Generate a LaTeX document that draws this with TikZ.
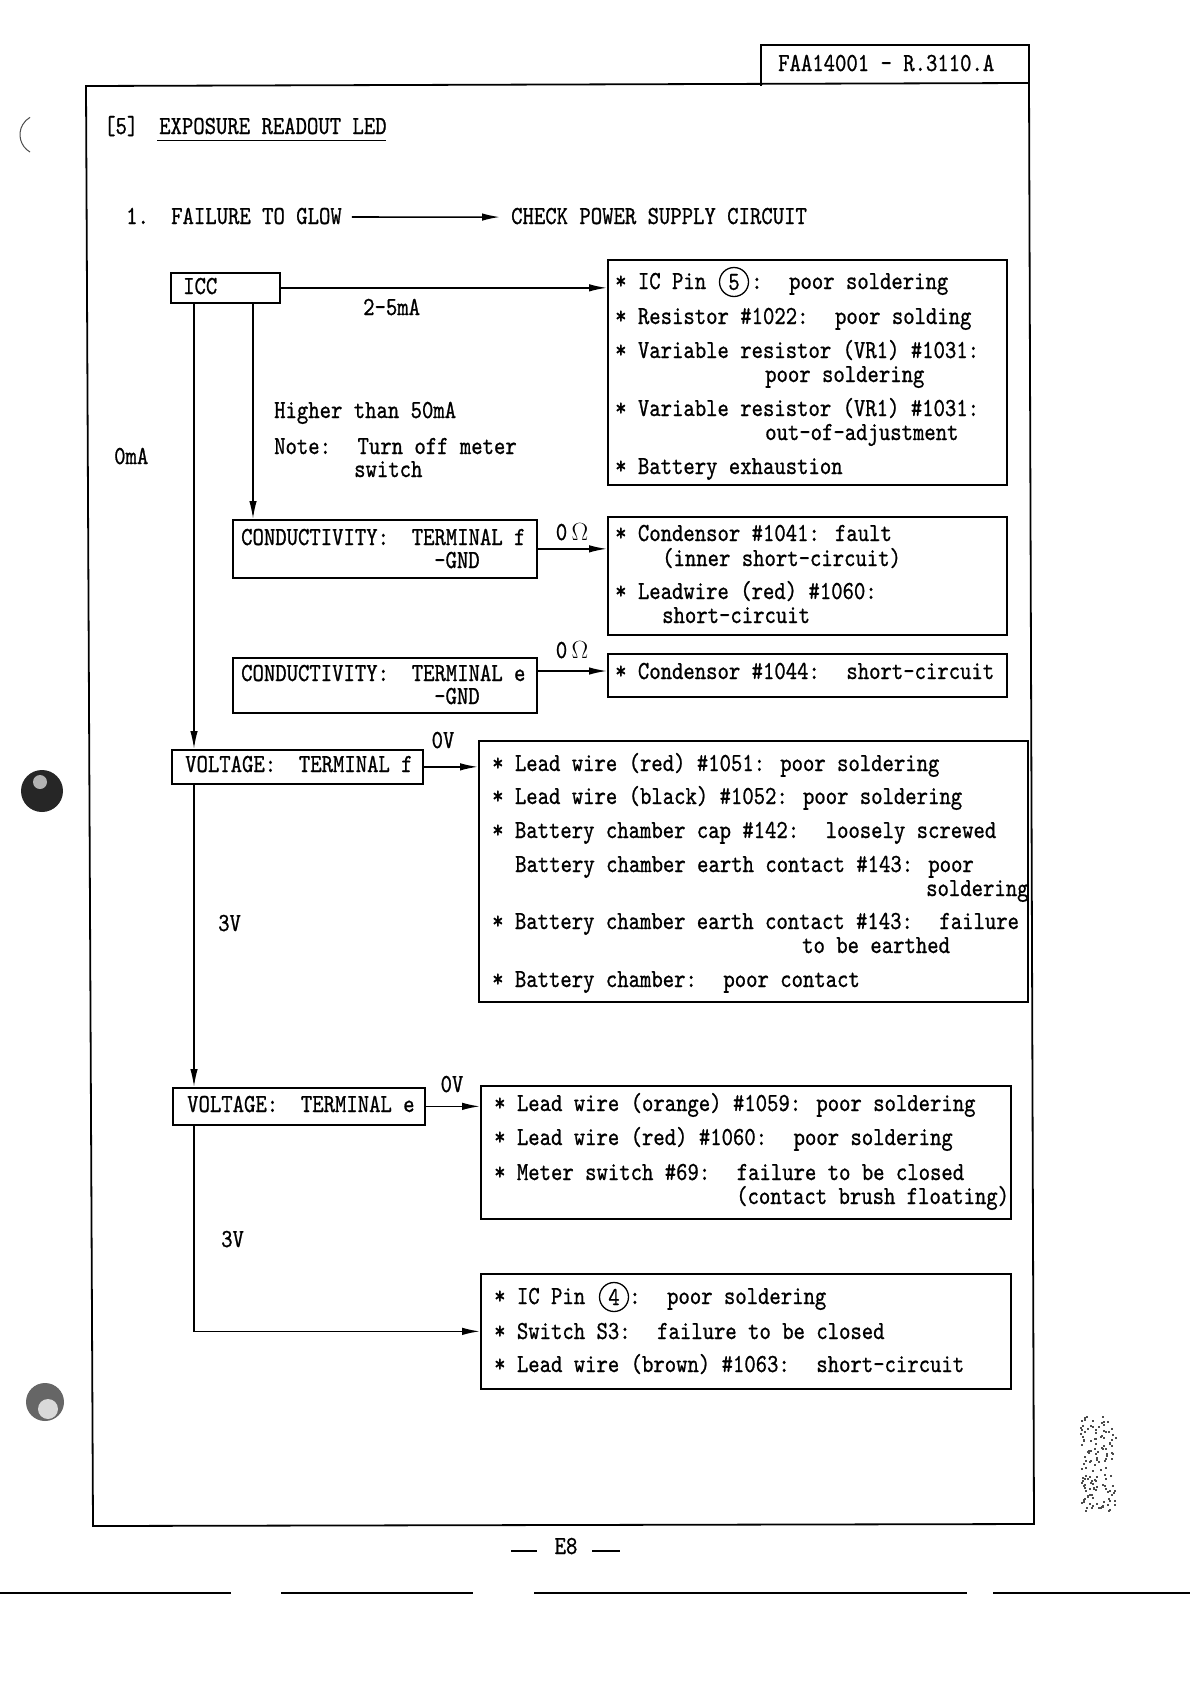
\documentclass[tikz,border=0pt]{standalone}
\usepackage{fontspec}
\newfontfamily\twfam[Extension=.otf,FakeStretch=0.833,FakeBold=0.8]{lmmono10-regular}
\newcommand\twtext{\twfam\fontsize{26}{30}\selectfont}
\usetikzlibrary{arrows.meta}
\begin{document}
\begin{tikzpicture}[x=1pt,y=-1pt,
  lbl/.style={anchor=base west, inner sep=0pt, font=\twtext},
  clbl/.style={anchor=base, inner sep=0pt, font=\twtext},
  bx/.style={draw, line width=1.7pt, anchor=north west, inner sep=0pt},
  arr/.style={line width=1.6pt, -{Latex[length=18pt,width=7.5pt]}},
  ln/.style={line width=1.8pt},
  cnum/.style={draw, circle, line width=1.3pt, inner sep=0pt, minimum size=29pt, font=\twtext}
]
\useasboundingbox (0,0) rectangle (1190,1684);
\fill[white] (0,0) rectangle (1190,1684);

% page frame and header
\draw[ln] (86,86) -- (1029,83) -- (1034,1524) -- (93,1526) -- cycle;
\draw[ln] (761,86) -- (761,45) -- (1029,45) -- (1029,83);
\node[lbl] (hdr) at (778,71) {FAA14001 - R.3110.A};

% title
\node[lbl] (sec) at (104,134) {[5]};
\node[lbl] (title) at (159,134) {EXPOSURE READOUT LED};
\draw[line width=1.2pt] (title.south west) ++(-2,6) -- ++(229,0);

\node[lbl] (num) at (126,224) {1.};
\node[lbl] (fail) at (171,224) {FAILURE TO GLOW};
\node[lbl] (check) at (511,224) {CHECK POWER SUPPLY CIRCUIT};
\draw[arr] ([xshift=10pt,yshift=-1pt]fail.east) -- ([xshift=-11pt,yshift=-1pt]check.west);

% boxes
\node[bx, minimum width=109pt, minimum height=30pt] (icc) at (170,272) {};
\node[lbl] (icct) at (183,294) {ICC};
\node[bx, minimum width=399pt, minimum height=225pt] (b1) at (607,259) {};
\node[bx, minimum width=304pt, minimum height=58pt] (cf) at (232,519) {};
\node[bx, minimum width=399pt, minimum height=118pt] (b2) at (607,516) {};
\node[bx, minimum width=304pt, minimum height=55pt] (ce) at (232,657) {};
\node[bx, minimum width=399pt, minimum height=43pt] (b3) at (607,653) {};
\node[bx, minimum width=251pt, minimum height=34pt] (vf) at (171,749) {};
\node[bx, minimum width=549pt, minimum height=261pt] (b4) at (478,740) {};
\node[bx, minimum width=252pt, minimum height=37pt] (ve) at (172,1087) {};
\node[bx, minimum width=530pt, minimum height=133pt] (b5) at (480,1085) {};
\node[bx, minimum width=530pt, minimum height=115pt] (b6) at (480,1273) {};

% connectors
\coordinate (xa) at (194,0);
\coordinate (xb) at (253,0);
\coordinate (ye) at (0,671);
\draw[arr] (icc.east) -- (icc.east -| b1.west);
\draw[arr] (icc.south -| xb) -- (cf.north -| xb);
\draw[arr] (icc.south -| xa) -- (vf.north -| xa);
\draw[arr] (cf.east) -- (cf.east -| b2.west);
\draw[arr] (ce.east |- ye) -- (b3.west |- ye);
\draw[arr] (vf.east) -- (vf.east -| b4.west);
\draw[arr] (vf.south -| xa) -- (ve.north -| xa);
\draw[arr] (ve.east) -- (ve.east -| b5.west);
\draw[arr] (ve.south -| xa) |- (b6.west);

% labels on connectors
\node[lbl] (l25) at (363,315) {2-5mA};
\node[lbl] (lhi) at (274,418) {Higher than 50mA};
\node[lbl] (lnote) at (274,454) {Note:~ Turn off meter};
\node[lbl] (lsw) at (354,477) {switch};
\node[lbl] (l0ma) at (114,464) {0mA};
\node[clbl] (lo1) at (572,540) {0\,$\Omega$};
\node[clbl] (lo2) at (572,658) {0\,$\Omega$};
\node[clbl] (lv1) at (443,748) {0V};
\node[lbl] (l3v1) at (218,931) {3V};
\node[clbl] (lv2) at (452,1092) {0V};
\node[lbl] (l3v2) at (221,1247) {3V};

% box 1
\node[lbl] (b1a) at (615,289) {* IC Pin};
\node[cnum] (c5) at (734,282) {5};
\node[lbl] (b1a2) at (751,289) {:~ poor soldering};
\node[lbl] (b1b) at (615,324) {* Resistor \#1022:~ poor solding};
\node[lbl] (b1c) at (615,358) {* Variable resistor (VR1) \#1031:};
\node[lbl] (b1d) at (765,382) {poor soldering};
\node[lbl] (b1e) at (615,416) {* Variable resistor (VR1) \#1031:};
\node[lbl] (b1f) at (765,440) {out-of-adjustment};
\node[lbl] (b1g) at (615,474) {* Battery exhaustion};

% conductivity f
\node[lbl] (cft) at (241,545) {CONDUCTIVITY:~ TERMINAL f};
\node[lbl] (cfg) at (434,568) {-GND};
\node[lbl] (b2a) at (615,541) {* Condensor \#1041: fault};
\node[lbl] (b2b) at (662,566) {(inner short-circuit)};
\node[lbl] (b2c) at (615,599) {* Leadwire (red) \#1060:};
\node[lbl] (b2d) at (662,623) {short-circuit};

% conductivity e
\node[lbl] (cet) at (241,681) {CONDUCTIVITY:~ TERMINAL e};
\node[lbl] (ceg) at (434,704) {-GND};
\node[lbl] (b3a) at (615,679) {* Condensor \#1044:~ short-circuit};

% voltage f
\node[lbl] (vft) at (185,772) {VOLTAGE:~ TERMINAL f};
\node[lbl] (b4a) at (492,771) {* Lead wire (red) \#1051: poor soldering};
\node[lbl] (b4b) at (492,804) {* Lead wire (black) \#1052: poor soldering};
\node[lbl] (b4c) at (492,838) {* Battery chamber cap \#142:~ loosely screwed};
\node[lbl] (b4d) at (515,872) {Battery chamber earth contact \#143: poor};
\node[lbl] (b4e) at (926,896) {soldering};
\node[lbl] (b4f) at (492,929) {* Battery chamber earth contact \#143:~ failure};
\node[lbl] (b4g) at (802,953) {to be earthed};
\node[lbl] (b4h) at (492,987) {* Battery chamber:~ poor contact};

% voltage e
\node[lbl] (vet) at (187,1112) {VOLTAGE:~ TERMINAL e};
\node[lbl] (b5a) at (494,1111) {* Lead wire (orange) \#1059: poor soldering};
\node[lbl] (b5b) at (494,1145) {* Lead wire (red) \#1060:~ poor soldering};
\node[lbl] (b5c) at (494,1180) {* Meter switch \#69:~ failure to be closed};
\node[lbl] (b5d) at (736,1204) {(contact brush floating)};

% box 6
\node[lbl] (b6a) at (494,1304) {* IC Pin};
\node[cnum] (c4) at (614,1297) {4};
\node[lbl] (b6a2) at (629,1304) {:~ poor soldering};
\node[lbl] (b6b) at (494,1339) {* Switch S3:~ failure to be closed};
\node[lbl] (b6c) at (494,1372) {* Lead wire (brown) \#1063:~ short-circuit};

% page number
\node[clbl] (pg) at (566,1554) {E8};
\draw[line width=1.8pt] (511,1551) -- (537,1551);
\draw[line width=1.8pt] (592,1551) -- (620,1551);

% bottom rule of the scan
\draw[line width=2pt] (0,1593) -- (231,1593);
\draw[line width=2pt] (281,1593) -- (473,1593);
\draw[line width=2pt] (534,1593) -- (967,1593);
\draw[line width=2pt] (993,1593) -- (1190,1593);

% scan marks
\fill[black!85] (42,791) circle (21);
\fill[gray!60] (40,782) circle (7);
\fill[black!60] (45,1402) circle (19);
\fill[gray!30] (48,1409) circle (10);
\draw[black!70, line width=1pt] (30,152) arc (120:240:20);
\pgfmathsetseed{7}
\foreach \i in {1,...,140}{
  \pgfmathsetmacro\px{1080+35*rnd}
  \pgfmathsetmacro\py{1415+95*rnd}
  \fill[black!70] (\px,\py) rectangle ++(2,2);
}
\end{tikzpicture}
\end{document}
